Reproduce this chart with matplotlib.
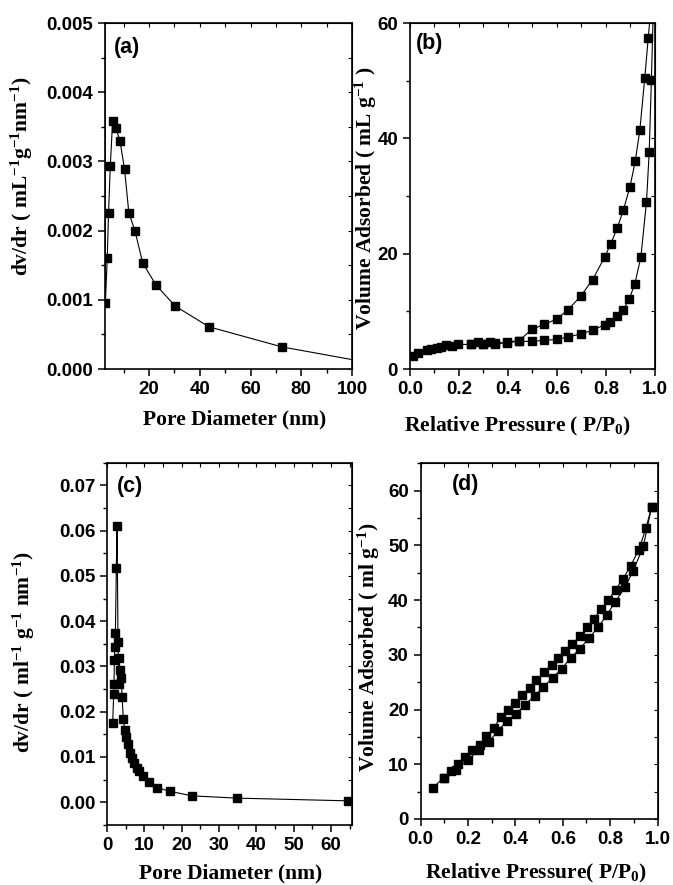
import numpy as np
import matplotlib
matplotlib.use("Agg")
import matplotlib.pyplot as plt
from matplotlib.ticker import MultipleLocator, FormatStrFormatter

plt.rcParams["font.family"] = "Liberation Sans"
plt.rcParams["mathtext.fontset"] = "custom"
plt.rcParams["mathtext.rm"] = "Liberation Serif:bold"
plt.rcParams["mathtext.it"] = "Liberation Serif:bold"
plt.rcParams["mathtext.bf"] = "Liberation Serif:bold"

# ── (a) pore size distribution ───────────────────────────────
a_d = [2.62, 2.75, 3.5, 4.0, 4.7, 5.6, 6.8, 8.5, 10.3, 12.0, 14.4, 17.5,
       22.8, 30.3, 43.6, 72.4, 104.0]
a_v = [0.0060, 0.00095, 0.00161, 0.00226, 0.00294, 0.00358, 0.00349, 0.00330,
       0.00289, 0.00226, 0.00200, 0.00153, 0.00121, 0.00091, 0.00061,
       0.00032, 0.00011]

# ── (b) isotherm ─────────────────────────────────────────────
b_ads_p = [0.011, 0.034, 0.068, 0.088, 0.109, 0.129, 0.146, 0.17, 0.197,
           0.248, 0.30, 0.348, 0.397, 0.446, 0.497, 0.548, 0.599, 0.646,
           0.697, 0.746, 0.795, 0.816, 0.844, 0.871, 0.895, 0.918, 0.943,
           0.966, 0.977, 0.986, 0.996]
b_ads_v = [2.25, 2.83, 3.3, 3.5, 3.7, 3.87, 4.1, 4.0, 4.27, 4.27, 4.27, 4.45,
           4.6, 4.8, 4.8, 4.97, 5.14, 5.54, 6.1, 6.7, 7.7, 8.1, 9.2, 10.3,
           12.1, 14.7, 19.4, 29.0, 37.6, 50.1, 66.0]
b_des_p = [0.991, 0.973, 0.959, 0.939, 0.920, 0.898, 0.871, 0.846, 0.820,
           0.795, 0.746, 0.697, 0.646, 0.599, 0.548, 0.497, 0.446, 0.397,
           0.348, 0.329, 0.30, 0.278, 0.248]
b_des_v = [66.0, 57.4, 50.5, 41.5, 36.0, 31.5, 27.5, 24.4, 21.7, 19.4, 15.5,
           12.6, 10.3, 8.66, 7.74, 6.87, 4.9, 4.7, 4.27, 4.7, 4.3, 4.7, 4.27]

# ── (c) pore size distribution ───────────────────────────────
c_d = [1.52, 1.79, 1.88, 1.97, 2.06, 2.24, 2.5, 2.69, 2.95, 3.1, 3.22, 3.5,
       3.85, 4.03, 4.39, 4.74, 5.1, 5.55, 6.1, 6.6, 7.25, 7.9, 8.6, 9.7,
       11.2, 13.5, 16.9, 22.8, 34.8, 64.6]
c_v = [0.0174, 0.0240, 0.0261, 0.0314, 0.0343, 0.0373, 0.0518, 0.0610,
       0.0353, 0.0262, 0.0318, 0.0292, 0.0274, 0.0232, 0.0183, 0.0160,
       0.0143, 0.0128, 0.0108, 0.0097, 0.0086, 0.0075, 0.0068, 0.0057,
       0.0044, 0.0032, 0.0024, 0.0014, 0.0009, 0.0003]

# ── (d) isotherm ─────────────────────────────────────────────
d_ads_p = [0.053, 0.098, 0.149, 0.198, 0.246, 0.288, 0.325, 0.363, 0.402,
           0.442, 0.481, 0.518, 0.557, 0.595, 0.633, 0.672, 0.71, 0.75,
           0.785, 0.82, 0.862, 0.897, 0.94, 0.975]
d_ads_v = [5.75, 7.57, 8.96, 10.7, 12.6, 14.1, 16.0, 17.9, 19.2, 20.9, 22.5,
           24.1, 25.8, 27.4, 29.4, 31.1, 33.0, 35.1, 37.2, 39.6, 42.3, 45.3,
           49.8, 57.0]
d_des_p = [0.975, 0.951, 0.921, 0.887, 0.855, 0.823, 0.792, 0.763, 0.731,
           0.703, 0.674, 0.641, 0.61, 0.582, 0.553, 0.522, 0.489, 0.461,
           0.43, 0.398, 0.37, 0.339, 0.309, 0.278, 0.249, 0.218, 0.187,
           0.156, 0.127, 0.098]
d_des_v = [57.0, 53.1, 49.2, 46.3, 43.9, 41.9, 40.0, 38.3, 36.6, 35.0, 33.4,
           32.0, 30.7, 29.4, 28.2, 26.8, 25.4, 23.9, 22.6, 21.1, 20.0, 18.6,
           16.7, 15.1, 13.6, 12.6, 11.4, 10.1, 8.84, 7.57]

SERIF = "Liberation Serif"
TICK_FS = 13.5
LAB_FS = 15.5


def style(ax, xmaj, xmin, ymaj, ymin, xfmt, yfmt):
    ax.xaxis.set_major_locator(MultipleLocator(xmaj))
    ax.xaxis.set_minor_locator(MultipleLocator(xmin))
    ax.yaxis.set_major_locator(MultipleLocator(ymaj))
    ax.yaxis.set_minor_locator(MultipleLocator(ymin))
    ax.xaxis.set_major_formatter(FormatStrFormatter(xfmt))
    ax.yaxis.set_major_formatter(FormatStrFormatter(yfmt))
    ax.tick_params(which="major", direction="out", length=5, width=1.1,
                   labelsize=TICK_FS)
    ax.tick_params(which="minor", direction="out", length=3, width=1.0)
    for lab in ax.get_xticklabels() + ax.get_yticklabels():
        lab.set_fontweight("bold")
    for s in ax.spines.values():
        s.set_linewidth(1.2)
    # mirrored inward ticks on top / right, no labels
    top = ax.secondary_xaxis("top")
    top.xaxis.set_major_locator(MultipleLocator(xmaj))
    top.xaxis.set_minor_locator(MultipleLocator(xmin))
    top.tick_params(which="both", direction="in", labeltop=False, length=3,
                    width=0.8)
    right = ax.secondary_yaxis("right")
    right.yaxis.set_major_locator(MultipleLocator(ymaj))
    right.yaxis.set_minor_locator(MultipleLocator(ymin))
    right.tick_params(which="both", direction="in", labelright=False, length=3,
                      width=0.8)


def labels(ax, xl, yl, xpos, ypos, tag, tagpos):
    ax.set_xlabel(xl, fontfamily=SERIF, fontweight="bold", fontsize=LAB_FS)
    ax.set_ylabel(yl, fontfamily=SERIF, fontweight="bold", fontsize=LAB_FS)
    ax.xaxis.set_label_coords(*xpos)
    ax.yaxis.set_label_coords(*ypos)
    ax.text(tagpos[0], tagpos[1], tag, transform=ax.transAxes, fontsize=15.5,
            fontweight="bold", va="center", ha="left")


mk = dict(color="black", marker="s", markersize=5.5, linewidth=0.8,
          markeredgecolor="black")

fig = plt.figure(figsize=(6.73, 8.85), dpi=100)

# Panel (a)
ax = fig.add_axes([0.156, 0.583, 0.367, 0.391])
ax.plot(a_d, a_v, **mk)
ax.set_xlim(2.6, 100)
ax.set_ylim(0, 0.005)
style(ax, 20, 10, 0.001, 0.0005, "%d", "%.3f")
labels(ax, "Pore Diameter (nm)",
       r"dv/dr ( mL$^{-1}$g$^{-1}$nm$^{-1}$)",
       (0.526, -0.118), (-0.283, 0.558), "(a)", (0.035, 0.93))

# Panel (b)
ax = fig.add_axes([0.609, 0.583, 0.364, 0.391])
ax.plot(b_ads_p, b_ads_v, **mk)
ax.plot(b_des_p, b_des_v, **mk)
ax.set_xlim(0, 1.0)
ax.set_ylim(0, 60)
style(ax, 0.2, 0.1, 20, 10, "%.1f", "%d")
labels(ax, r"Relative Pressure ( P/P$_0$)",
       r"Volume Adsorbed ( mL g$^{-1}$ )",
       (0.44, -0.133), (-0.125, 0.494), "(b)", (0.025, 0.94))

# Panel (c)
ax = fig.add_axes([0.159, 0.068, 0.364, 0.409])
ax.plot(c_d, c_v, **mk)
ax.set_xlim(0, 65.6)
ax.set_ylim(-0.005, 0.075)
style(ax, 10, 5, 0.01, 0.005, "%d", "%.2f")
labels(ax, "Pore Diameter (nm)",
       r"dv/dr ( ml$^{-1}$ g$^{-1}$ nm$^{-1}$)",
       (0.506, -0.106), (-0.286, 0.478), "(c)", (0.04, 0.934))

# Panel (d)
ax = fig.add_axes([0.625, 0.0746, 0.352, 0.402])
ax.plot(d_ads_p, d_ads_v, **mk)
ax.plot(d_des_p, d_des_v, **mk)
ax.set_xlim(0, 1.0)
ax.set_ylim(0, 65)
style(ax, 0.2, 0.1, 10, 5, "%.1f", "%d")
labels(ax, r"Relative Pressure( P/P$_0$)",
       r"Volume Adsorbed ( ml g$^{-1}$)",
       (0.485, -0.12), (-0.165, 0.483), "(d)", (0.13, 0.94))

fig.savefig("out.png", dpi=100)
